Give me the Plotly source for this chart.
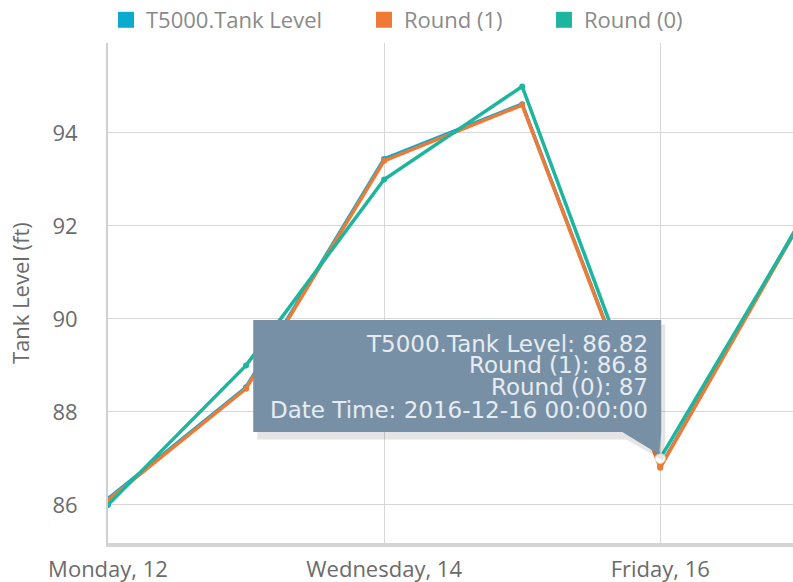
import plotly.graph_objects as go

# ---- data ----
dates = ["2016-12-12", "2016-12-13", "2016-12-14", "2016-12-15", "2016-12-16", "2016-12-17"]
tank_level = [86.13, 88.53, 93.44, 94.62, 86.82, 92.03]
round_1 = [86.1, 88.5, 93.4, 94.6, 86.8, 92.0]
round_0 = [86, 89, 93, 95, 87, 92]
series_names = ["T5000.Tank Level", "Round (1)", "Round (0)"]
tick_vals = ["2016-12-12", "2016-12-14", "2016-12-16"]
tick_text = ["Monday, 12", "Wednesday, 14", "Friday, 16"]
y_ticks = [86, 88, 90, 92, 94]
y_title = "Tank Level (ft)"
hover_index = 4
hover_time = "2016-12-16 00:00:00"

colors = ["#0babd0", "#ef7a36", "#1db59d"]
series = [tank_level, round_1, round_0]

fig = go.Figure()

for name, vals, col in zip(series_names, series, colors):
    fig.add_trace(go.Scatter(
        x=dates, y=vals, name=name, mode="lines+markers",
        line=dict(color=col, width=3.5),
        marker=dict(color=col, size=6),
        showlegend=False, cliponaxis=True,
    ))

# legend entries with square symbols
legend_widths = [213, 135, None]
for name, col, lw in zip(series_names, colors, legend_widths):
    kw = {}
    if lw:
        kw["legendwidth"] = lw
    fig.add_trace(go.Scatter(
        x=[None], y=[None], name=name, mode="markers",
        marker=dict(color=col, size=16, symbol="square"),
        showlegend=True, **kw,
    ))

# hovered point
hx = dates[hover_index]
hy = round_0[hover_index]
fig.add_trace(go.Scatter(
    x=[hx], y=[hy], mode="markers", showlegend=False,
    marker=dict(color="white", size=10, line=dict(color="#dddddd", width=1)),
))

# tooltip shapes anchored to the hovered point (pixel offsets)
common = dict(xref="x", yref="y", xsizemode="pixel", ysizemode="pixel",
              xanchor=hx, yanchor=hy, layer="above", line=dict(width=0))
fig.add_shape(type="rect", x0=-403, x1=5, y0=19, y1=134,
              fillcolor="rgba(0,0,0,0.10)", **common)
fig.add_shape(type="path", path="M -34,19 L 5,19 L 3,-2 Z",
              fillcolor="rgba(0,0,0,0.10)", **common)
fig.add_shape(type="rect", x0=-407, x1=1, y0=26.5, y1=138.5,
              fillcolor="#7890a5", **common)
fig.add_shape(type="path", path="M -38,26.5 L 1,26.5 L -1,4 Z",
              fillcolor="#7890a5", **common)

lines = [
    f"{series_names[0]}: {tank_level[hover_index]}",
    f"{series_names[1]}: {round_1[hover_index]}",
    f"{series_names[2]}: {round_0[hover_index]}",
    f"Date Time: {hover_time}",
]
shifts = [114, 93, 71, 48]
for txt, ys in zip(lines, shifts):
    fig.add_annotation(
        x=hx, y=hy, xref="x", yref="y", text=txt, showarrow=False,
        xanchor="right", yanchor="middle", xshift=-11, yshift=ys,
        font=dict(family="DejaVu Sans", size=23, color="#e6ecf1"),
        align="right", borderpad=0,
    )

# y-axis title
fig.add_annotation(
    text=y_title, xref="paper", yref="paper", x=-(108 - 20) / 685, y=0.5,
    xanchor="center", yanchor="middle", textangle=-90, showarrow=False,
    font=dict(family="Open Sans", size=22, color="#6b6b6b"),
)

fig.update_layout(
    width=793, height=582,
    margin=dict(l=108, r=0, t=43, b=39, autoexpand=False),
    paper_bgcolor="white", plot_bgcolor="white",
    hovermode=False,
    font=dict(family="Open Sans", color="#6b6b6b"),
    legend=dict(
        orientation="h", xref="container", yref="paper",
        x=106 / 793, y=1.088, xanchor="left", yanchor="top",
        font=dict(family="Open Sans", size=22, color="#8a8a8a"),
        bgcolor="rgba(0,0,0,0)",
    ),
    xaxis=dict(
        type="date", range=["2016-12-12", "2016-12-16 23:05"],
        tickvals=tick_vals, ticktext=tick_text,
        showgrid=True, gridcolor="#d6d6d6", gridwidth=1,
        showline=True, linecolor="#d4d4d4", linewidth=4,
        ticks="", zeroline=False, automargin=False,
        tickfont=dict(family="Open Sans", size=22, color="#6b6b6b"),
        ticklabelstandoff=4,
    ),
    yaxis=dict(
        range=[85.18, 95.935], tickvals=y_ticks,
        showgrid=True, gridcolor="#d6d6d6", gridwidth=1,
        showline=True, linecolor="#d0d0d0", linewidth=2,
        ticks="", zeroline=False, automargin=False,
        tickfont=dict(family="Open Sans", size=22, color="#6b6b6b"),
        ticklabelstandoff=24,
    ),
)

fig.write_html(
    "out.html",
    config={"displayModeBar": False},
    post_script="document.body.style.margin='0';document.body.style.overflow='hidden';",
)
